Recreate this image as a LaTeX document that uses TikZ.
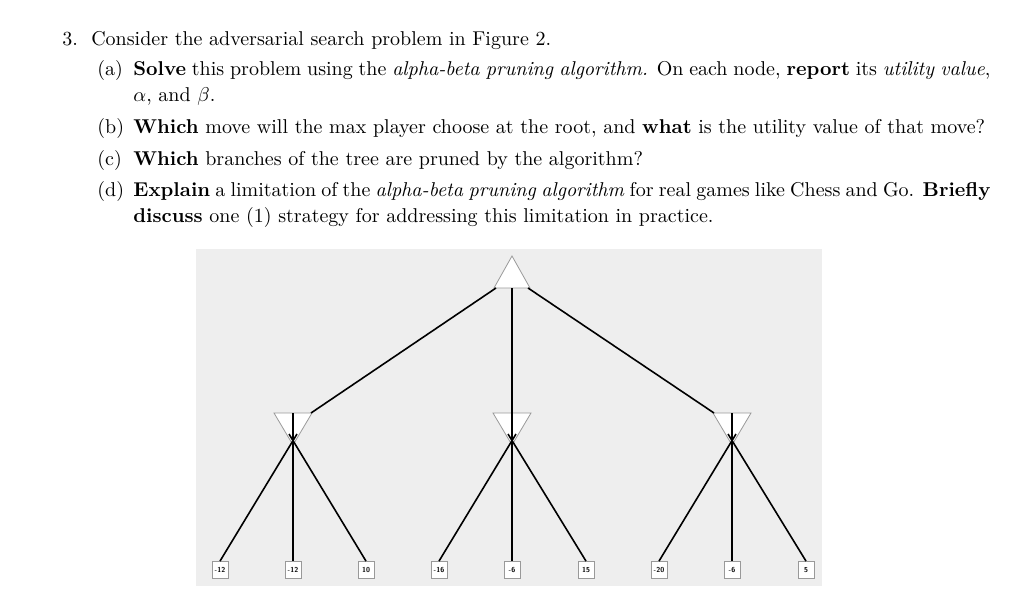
\documentclass[tikz,border=0pt]{standalone}
\usepackage{amsmath}
\begin{document}
\begin{tikzpicture}[x=0.5pt,y=-0.5pt,
  txt/.style={anchor=base west,inner sep=0pt,font=\fontsize{10}{13}\selectfont},
  par/.style={txt,text width=428.5pt,align=justify},
  tri/.style={fill=white,draw=gray!80,line width=0.4pt},
  leaf/.style={draw=gray!80,fill=white,minimum width=8pt,minimum height=8.5pt,inner sep=0pt,font=\sffamily\bfseries\fontsize{3.6}{4}\selectfont},
  edge/.style={line width=0.8pt,black}]
\useasboundingbox (0,0) rectangle (1024,599);
\node[txt] (q) at (62,46) {3.\ \ Consider the adversarial search problem in Figure 2.};
\node[txt] (la) at (97,76) {(a)};
\node[par] (ta) at (133,76) {\textbf{Solve} this problem using the \textit{alpha-beta pruning algorithm.} On each node, \textbf{report} its \textit{utility value}, $\alpha$, and $\beta$.};
\node[txt] (lb) at (97,134) {(b)};
\node[txt] (tb) at (133,134) {\textbf{Which} move will the max player choose at the root, and \textbf{what} is the utility value of that move?};
\node[txt] (lc) at (97,166) {(c)};
\node[txt] (tc) at (133,166) {\textbf{Which} branches of the tree are pruned by the algorithm?};
\node[txt] (ld) at (97,197) {(d)};
\node[par] (td) at (133,197) {\textbf{Explain} a limitation of the \textit{alpha-beta pruning algorithm} for real games like Chess and Go. \textbf{Briefly discuss} one (1) strategy for addressing this limitation in practice.};
\fill[gray!13] (196,249) rectangle (822,586);
% leaves
\foreach \n/\x/\v in {l1/220/-12,l2/293/-12,l3/366/10,l4/439/-16,l5/512/-6,l6/586/15,l7/659/-20,l8/732/-6,l9/806/5}
  \node[leaf] (\n) at (\x,570) {\v};
% root and min nodes
\coordinate (r1) at (496,288); \coordinate (r2) at (512,288); \coordinate (r3) at (528,288);
\draw[tri] (512,256) -- (494,288) -- (530,288) -- cycle;
\foreach \c/\x in {a/293,b/512,c/732}{
  \coordinate (\c L) at ({\x-18},413); \coordinate (\c M) at (\x,413); \coordinate (\c R) at ({\x+18},413);
  \coordinate (\c s1) at ({\x+4},434); \coordinate (\c s2) at (\x,424); \coordinate (\c s3) at ({\x-4},434);
  \draw[tri] ({\x-19},413) -- ({\x+19},413) -- (\x,445) -- cycle;
}
\draw[edge] (r1) -- (aR); \draw[edge] (r2) -- (bM); \draw[edge] (r3) -- (cL);
\draw[edge] (as1) -- (l1.north); \draw[edge] (aM) -- (l2.north); \draw[edge] (as3) -- (l3.north);
\draw[edge] (bs1) -- (l4.north); \draw[edge] (bM) -- (l5.north); \draw[edge] (bs3) -- (l6.north);
\draw[edge] (cs1) -- (l7.north); \draw[edge] (cM) -- (l8.north); \draw[edge] (cs3) -- (l9.north);
\end{tikzpicture}
\end{document}
